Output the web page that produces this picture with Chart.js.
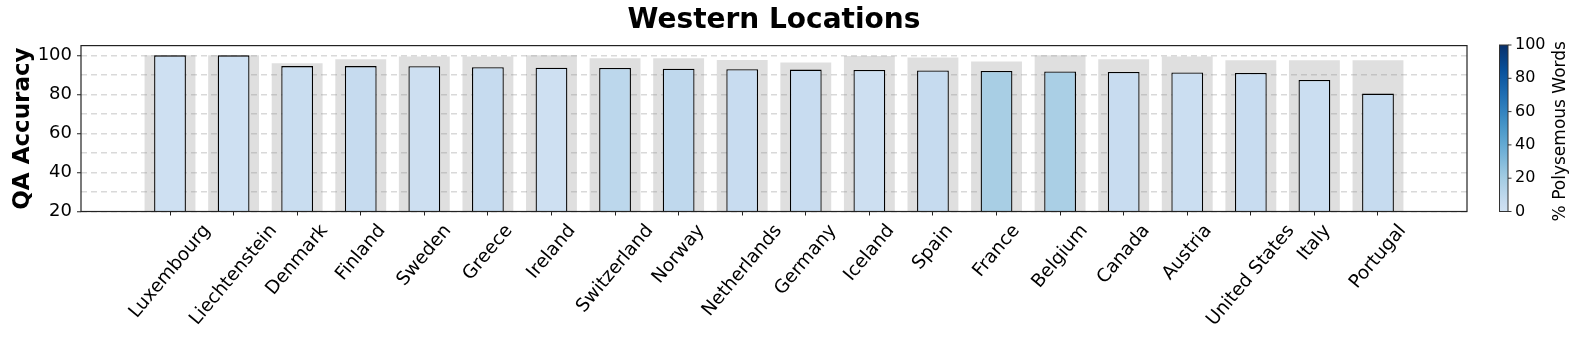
<!DOCTYPE html>
<html>
<head>
<meta charset="utf-8">
<script src="https://cdn.jsdelivr.net/npm/chart.js@4/dist/chart.umd.min.js"></script>
<style>
html,body{margin:0;padding:0;background:#fff;}
#wrap{width:1578px;height:340px;position:relative;}
</style>
</head>
<body>
<div id="wrap"><canvas id="c" width="1578" height="340"></canvas></div>
<script>
const categories = ["Luxembourg","Liechtenstein","Denmark","Finland","Sweden","Greece","Ireland","Switzerland","Norway","Netherlands","Germany","Iceland","Spain","France","Belgium","Canada","Austria","United States","Italy","Portugal"];
const accuracy = [100, 100, 94.5, 94.5, 94.4, 93.9, 93.7, 93.5, 93.2, 92.9, 92.7, 92.5, 92.3, 92.0, 91.7, 91.5, 91.2, 91.0, 87.4, 80.4];
const backgroundAccuracy = [100, 100, 95.9, 98.0, 99.4, 99.4, 100, 98.5, 98.5, 97.6, 96.3, 99.7, 98.9, 96.8, 100, 98.0, 99.4, 97.5, 97.5, 97.5];
const polysemousPct = [1, 1, 4, 6, 2, 6, 1, 10, 9, 5, 5, 2, 6, 18, 17, 5, 3, 5, 3, 6];
const yTicks = [20, 30, 40, 50, 60, 70, 80, 90, 100];
const colorbarTicks = [0, 20, 40, 60, 80, 100];

const FONT = "'DejaVu Sans', sans-serif";
// Matplotlib "Blues" colormap stops
const bluesStops = [[247,251,255],[222,235,247],[198,219,239],[158,202,225],[107,174,214],[66,146,198],[33,113,181],[8,81,156],[8,48,107]];
function blues(t){
  t = Math.max(0, Math.min(1, t));
  const n = bluesStops.length - 1;
  const p = t * n; const i = Math.min(n - 1, Math.floor(p)); const f = p - i;
  const a = bluesStops[i], b = bluesStops[i+1];
  return 'rgb(' + a.map((v,k)=>Math.round(v + (b[k]-v)*f)).join(',') + ')';
}
function cmap(v){ return blues(0.2 + 0.8 * v / 100); }

const frameAndExtras = {
  id: 'extras',
  afterDraw(chart){
    const ctx = chart.ctx, ca = chart.chartArea, xs = chart.scales.x;
    ctx.save();
    // frame
    ctx.strokeStyle = '#222'; ctx.lineWidth = 1.2;
    ctx.strokeRect(ca.left, ca.top, ca.right - ca.left, ca.bottom - ca.top);
    // x tick labels, rotated 50deg, bbox centered on tick (matplotlib style)
    ctx.fillStyle = '#000';
    const fh = 18.5;
    ctx.font = fh + 'px ' + FONT;
    ctx.textAlign = 'center'; ctx.textBaseline = 'middle';
    const th = 50 * Math.PI / 180;
    categories.forEach((lab, i) => {
      const x = xs.getPixelForValue(i);
      const w = ctx.measureText(lab).width;
      const H = w * Math.sin(th) + fh * Math.cos(th);
      const cy = ca.bottom + 10 + H / 2;
      ctx.save(); ctx.translate(x, cy); ctx.rotate(-th); ctx.fillText(lab, 0, 0); ctx.restore();
    });
    // colorbar
    const x0 = 1499.5, x1 = 1508, y0 = 45, y1 = 211.5;
    const g = ctx.createLinearGradient(0, y1, 0, y0);
    for (let k = 0; k <= 20; k++) g.addColorStop(k/20, cmap(k*5));
    ctx.fillStyle = g; ctx.fillRect(x0, y0, x1 - x0, y1 - y0);
    ctx.strokeStyle = '#333'; ctx.lineWidth = 1;
    ctx.strokeRect(x0, y0, x1 - x0, y1 - y0);
    ctx.font = '16px ' + FONT; ctx.fillStyle = '#000';
    ctx.textAlign = 'left'; ctx.textBaseline = 'middle';
    colorbarTicks.forEach(v => {
      const y = y1 - (y1 - y0) * v / 100;
      ctx.beginPath(); ctx.moveTo(x1, y); ctx.lineTo(x1 + 3.5, y); ctx.stroke();
      ctx.fillText(String(v), x1 + 7, y);
    });
    ctx.font = '17px ' + FONT; ctx.textAlign = 'center';
    ctx.save(); ctx.translate(1561, (y0 + y1) / 2 + 3); ctx.rotate(-Math.PI/2);
    ctx.fillText('% Polysemous Words', 0, 0); ctx.restore();
    ctx.restore();
  }
};

new Chart(document.getElementById('c'), {
  type: 'bar',
  data: {
    datasets: [
      {
        label: 'QA Accuracy',
        data: accuracy.map((v, i) => ({x: i, y: v})),
        backgroundColor: polysemousPct.map(cmap),
        borderColor: '#000', borderWidth: 1.3,
        barPercentage: 0.5, categoryPercentage: 1, grouped: false
      },
      {
        label: 'Background',
        data: backgroundAccuracy.map((v, i) => ({x: i, y: v})),
        backgroundColor: 'rgba(128,128,128,0.25)',
        borderWidth: 0,
        barPercentage: 0.8, categoryPercentage: 1, grouped: false
      }
    ]
  },
  options: {
    responsive: false, animation: false, devicePixelRatio: 1,
    layout: {padding: {left: 0, right: 111, top: 0, bottom: 0}},
    plugins: {
      legend: {display: false}, tooltip: {enabled: false},
      title: {
        display: true, text: 'Western Locations', fullSize: false, color: '#000',
        font: {family: FONT, size: 28, weight: 'bold'}, padding: {top: 4, bottom: 8}
      }
    },
    scales: {
      x: {
        type: 'linear', min: -1.4, max: 20.4, offset: false,
        afterBuildTicks: s => { s.ticks = categories.map((c, i) => ({value: i})); },
        afterFit: s => { s.height = 128.5; },
        ticks: {display: false, autoSkip: false},
        grid: {display: true, offset: false, drawOnChartArea: false, drawTicks: true, tickLength: 4, tickColor: '#222', tickWidth: 1},
        border: {display: false}
      },
      y: {
        type: 'linear', min: 20, max: 105,
        afterBuildTicks: s => { s.ticks = yTicks.map(v => ({value: v})); },
        afterFit: s => { s.width = 81; },
        ticks: {
          color: '#000', font: {family: FONT, size: 18}, padding: 5, autoSkip: false,
          callback: v => (v % 20 === 0 ? String(v) : '')
        },
        grid: {
          color: 'rgba(128,128,128,0.3)', lineWidth: 1.5, tickLength: 4,
          tickColor: ctx => (ctx.tick && ctx.tick.value % 20 === 0 ? '#222' : 'rgba(0,0,0,0)'),
          tickWidth: 1
        },
        border: {display: false, dash: [6, 4]},
        title: {display: true, text: 'QA Accuracy', color: '#000', font: {family: FONT, size: 23, weight: 'bold'}, padding: {top: 9, bottom: 0}}
      }
    }
  },
  plugins: [frameAndExtras]
});
</script>
</body>
</html>
